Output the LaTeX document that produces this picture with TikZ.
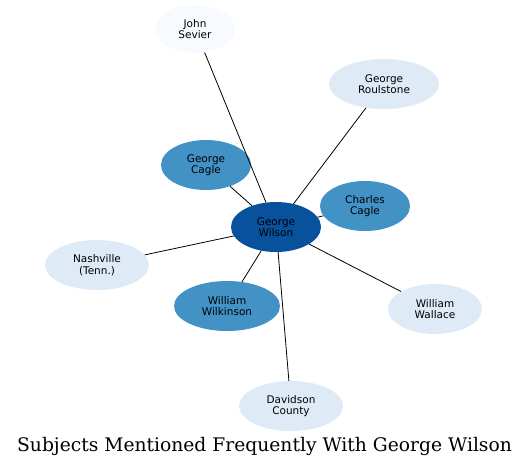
\documentclass[tikz,border=0pt]{standalone}
\usepackage{fontspec}
\setmainfont{DejaVu Sans}
\newfontfamily\titlefont{DejaVu Serif}
\usetikzlibrary{shapes.geometric}
\definecolor{cdark}{HTML}{08519C}
\definecolor{cmid}{HTML}{4292C6}
\definecolor{clight}{HTML}{DEEBF7}
\definecolor{cpale}{HTML}{F7FBFF}
\tikzset{
  subj/.style={ellipse, inner sep=0pt, minimum height=50pt, align=center,
    font=\fontsize{10.5}{11.5}\selectfont, text=black},
  edge/.style={draw=black, line width=0.8pt}
}
\begin{document}
\begin{tikzpicture}[x=1pt,y=-1pt]
\useasboundingbox (0,0) rectangle (529,467);
\node[subj, fill=cdark, minimum width=90pt] (wilson) at (276,227) {George\\Wilson};
\node[subj, fill=cpale, minimum width=80pt, minimum height=48pt] (sevier) at (195,29) {John\\Sevier};
\node[subj, fill=clight, minimum width=110pt] (roulstone) at (384,84) {George\\Roulstone};
\node[subj, fill=cmid, minimum width=90pt] (gcagle) at (206,165) {George\\Cagle};
\node[subj, fill=cmid, minimum width=90pt] (ccagle) at (365,206) {Charles\\Cagle};
\node[subj, fill=clight, minimum width=104pt] (nashville) at (97,265) {Nashville\\(Tenn.)};
\node[subj, fill=cmid, minimum width=106pt] (wilkinson) at (227,306) {William\\Wilkinson};
\node[subj, fill=clight, minimum width=94pt] (wallace) at (435,309) {William\\Wallace};
\node[subj, fill=clight, minimum width=104pt] (davidson) at (291,406) {Davidson\\County};
\foreach \n in {sevier,roulstone,gcagle,ccagle,nashville,wilkinson,wallace,davidson}
  \draw[edge] (wilson) -- (\n);
\node[font=\titlefont\fontsize{18.7}{20}\selectfont] (title) at (264.5,446) {Subjects Mentioned Frequently With George Wilson};
\end{tikzpicture}
\end{document}
